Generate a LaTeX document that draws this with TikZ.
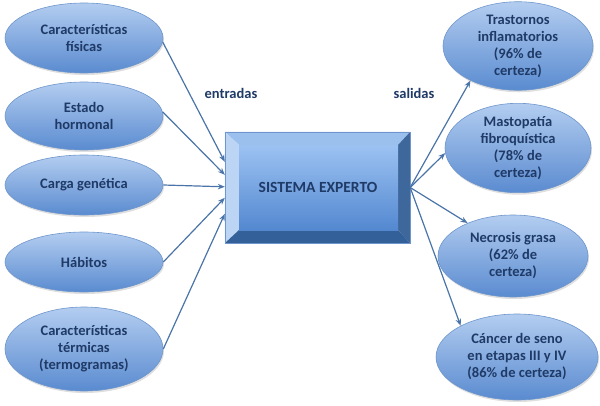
\documentclass[tikz,border=0pt]{standalone}
\usepackage{fontspec}
\setmainfont{Carlito}[BoldFont={* Bold}]
\usetikzlibrary{shapes.geometric,arrows.meta,shadows,calc}
\definecolor{txt}{HTML}{1F3A66}
\definecolor{ell1}{HTML}{B3CDF0}
\definecolor{ell2}{HTML}{5A8BD0}
\definecolor{ellb}{HTML}{6E96CC}
\definecolor{arr}{HTML}{4A74A8}
\definecolor{bvtop}{HTML}{9CC0EE}
\definecolor{bvleft}{HTML}{BCD5F4}
\definecolor{bvright}{HTML}{3E679C}
\definecolor{bvbot}{HTML}{34609A}
\definecolor{face1}{HTML}{9CC2F2}
\definecolor{face2}{HTML}{5388D0}
\tikzset{
  oval/.style={ellipse, inner sep=0pt, draw=ellb, line width=0.6pt,
    top color=ell1, bottom color=ell2, text=txt, align=center,
    font=\fontsize{14.5}{17}\selectfont\bfseries,
    drop shadow={opacity=0.25, shadow xshift=1pt, shadow yshift=-2pt}},
  conn/.style={draw=arr, line width=1.2pt, -{Stealth[length=7pt,width=5.5pt]}},
  lbl/.style={text=txt, font=\fontsize{14.5}{17}\selectfont\bfseries, inner sep=0pt},
  boxnode/.style={rectangle, minimum width=185pt, minimum height=111pt, inner sep=0pt}
}
\begin{document}
\begin{tikzpicture}[x=1pt,y=-1pt]
\useasboundingbox (0,0) rectangle (600,405);
% left ellipses
\node[oval, minimum width=158pt, minimum height=70pt] (e1) at (84,38) {Características\\físicas};
\node[oval, minimum width=158pt, minimum height=68pt] (e2) at (84,116) {Estado\\hormonal};
\node[oval, minimum width=158pt, minimum height=60pt] (e3) at (84,185) {Carga genética};
\node[oval, minimum width=158pt, minimum height=60pt] (e4) at (84,262) {Hábitos};
\node[oval, minimum width=158pt, minimum height=84pt] (e5) at (84,349) {Características\\térmicas\\(termogramas)};
% right ellipses
\node[oval, minimum width=150pt, minimum height=88pt] (r1) at (518,46) {Trastornos\\inflamatorios\\(96\% de\\certeza)};
\node[oval, minimum width=146pt, minimum height=87pt] (r2) at (518,148) {Mastopatía\\fibroquística\\(78\% de\\certeza)};
\node[oval, minimum width=150pt, minimum height=82pt] (r3) at (513,256) {Necrosis grasa\\(62\% de\\certeza)};
\node[oval, minimum width=162pt, minimum height=86pt] (r4) at (517,357) {Cáncer de seno\\en etapas III y IV\\(86\% de certeza)};
% central box
\node[boxnode] (box) at (317.5,187.5) {};
\coordinate (i1) at (239,145);
\coordinate (i2) at (398,145);
\coordinate (i3) at (398,230);
\coordinate (i4) at (239,230);
\fill[bvtop] (box.north west) -- (box.north east) -- (i2) -- (i1) -- cycle;
\fill[bvleft] (box.north west) -- (i1) -- (i4) -- (box.south west) -- cycle;
\fill[bvright] (box.north east) -- (box.south east) -- (i3) -- (i2) -- cycle;
\fill[bvbot] (box.south west) -- (i4) -- (i3) -- (box.south east) -- cycle;
\shade[top color=face1, bottom color=face2] (i1) rectangle (i3);
\draw[draw=ellb, line width=0.5pt] (box.north west) rectangle (box.south east);
\node[lbl, font=\fontsize{15.5}{17}\selectfont\bfseries] (title) at (318,187) {SISTEMA EXPERTO};
% labels
\node[lbl] (ent) at (231,93) {entradas};
\node[lbl] (sal) at (414,93) {salidas};
% input connectors
\draw[conn] (e1.-3) -- ($(box.north west)+(0,30)$);
\draw[conn] (e2.3) -- ($(box.north west)+(0,43)$);
\draw[conn] (e3.east) -- ($(box.north west)+(0,55)$);
\draw[conn] (e4.east) -- ($(box.north west)+(0,66)$);
\draw[conn] (e5.east) -- ($(box.north west)+(0,82)$);
% output connectors
\draw[conn] (box.east) -- (r1.216);
\draw[conn] (box.east) -- (r2.184);
\draw[conn] (box.east) -- (r3.144);
\draw[conn] (box.east) -- (r4.151);
\end{tikzpicture}
\end{document}
